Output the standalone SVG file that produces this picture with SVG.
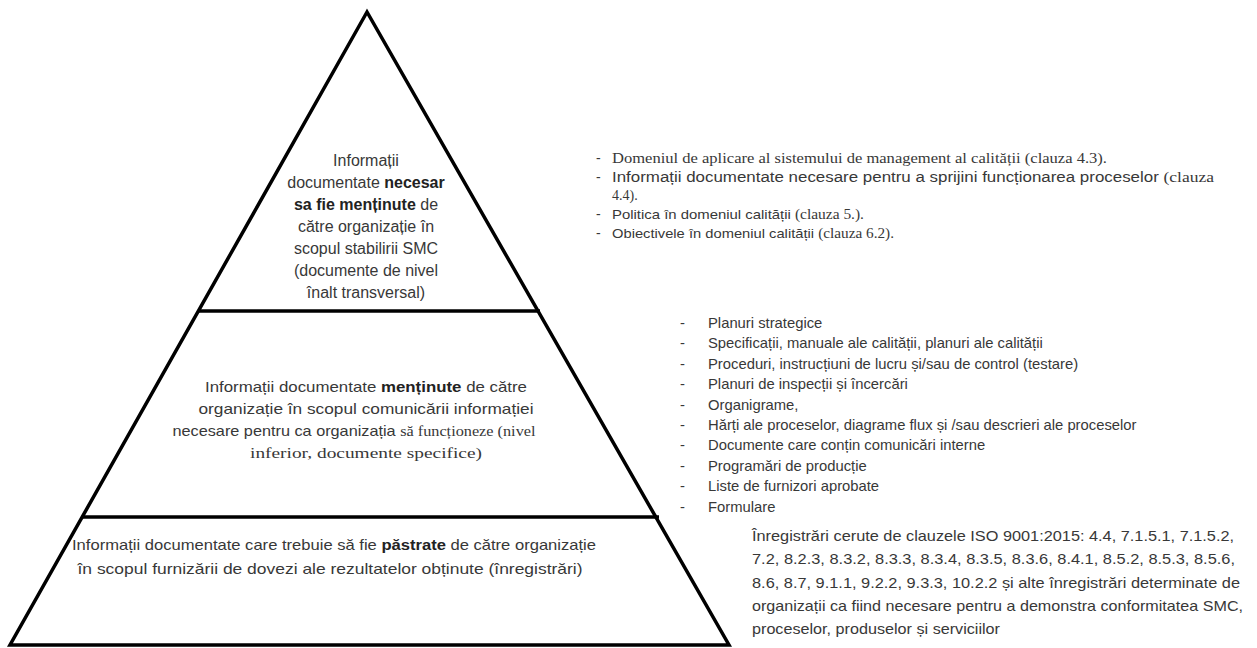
<svg xmlns="http://www.w3.org/2000/svg" width="1257" height="648" viewBox="0 0 1257 648">
  <style>
    .sans { font-family: "Liberation Sans", "Noto Sans", sans-serif; fill: #383838; }
    .serif { font-family: "Liberation Serif", "DejaVu Serif", serif; fill: #383838; }
    .mid { text-anchor: middle; }
    .b { font-weight: bold; fill: #222; }
    .edge { stroke: #000; stroke-width: 3.5; fill: none; stroke-linejoin: miter; }
  </style>
  <rect width="1257" height="648" fill="#fff"/>

  <!-- pyramid outline and level dividers -->
  <g id="connectors">
    <polygon class="edge" points="367,12 10,645 729,645"/>
    <line class="edge" x1="199" y1="311" x2="540" y2="311"/>
    <line class="edge" x1="83" y1="517" x2="659" y2="517"/>
  </g>

  <!-- top level -->
  <g id="level-top" font-size="16">
    <text class="sans mid" x="366" y="166">Informații</text>
    <text class="sans mid" x="366" y="188">documentate <tspan class="b">necesar</tspan></text>
    <text class="sans mid" x="366" y="210"><tspan class="b">sa fie menținute</tspan> de</text>
    <text class="sans mid" x="366" y="232">către organizație în</text>
    <text class="sans mid" x="366" y="254">scopul stabilirii SMC</text>
    <text class="sans mid" x="366" y="276">(documente de nivel</text>
    <text class="sans mid" x="366" y="298">înalt transversal)</text>
  </g>

  <!-- middle level -->
  <g id="level-middle" font-size="14.5">
    <text class="sans mid" x="366" y="392" textLength="322" lengthAdjust="spacingAndGlyphs">Informații documentate <tspan class="b">menținute</tspan> de către</text>
    <text class="sans mid" x="366" y="414" textLength="335" lengthAdjust="spacingAndGlyphs">organizație în scopul comunicării informației</text>
    <text class="sans mid" x="354" y="436" textLength="363" lengthAdjust="spacingAndGlyphs">necesare pentru ca organizația <tspan class="serif">să funcționeze (nivel</tspan></text>
    <text class="serif mid" x="366" y="458" textLength="232" lengthAdjust="spacingAndGlyphs">inferior, documente specifice)</text>
  </g>

  <!-- bottom level -->
  <g id="level-bottom" font-size="14.5">
    <text class="sans mid" x="334" y="550" textLength="524" lengthAdjust="spacingAndGlyphs">Informații documentate care trebuie să fie <tspan class="b">păstrate</tspan> de către organizație</text>
    <text class="sans mid" x="330" y="574" textLength="505" lengthAdjust="spacingAndGlyphs">în scopul furnizării de dovezi ale rezultatelor obținute (înregistrări)</text>
  </g>

  <!-- notes for the top level -->
  <g id="notes-top" font-size="14">
    <text class="sans" x="596" y="163">-</text>
    <text class="serif" x="612" y="163" textLength="495" lengthAdjust="spacingAndGlyphs">Domeniul de aplicare al sistemului de management al calității (clauza 4.3).</text>
    <text class="sans" x="596" y="182">-</text>
    <text class="sans" x="612" y="182" font-size="14" textLength="602" lengthAdjust="spacingAndGlyphs">Informații documentate necesare pentru a sprijini funcționarea proceselor <tspan class="serif" font-size="14.5">(clauza</tspan></text>
    <text class="serif" x="612" y="200">4.4).</text>
    <text class="sans" x="596" y="219">-</text>
    <text class="sans" x="612" y="219" font-size="13.5" textLength="252" lengthAdjust="spacingAndGlyphs">Politica în domeniul calității <tspan class="serif" font-size="14">(clauza 5.).</tspan></text>
    <text class="sans" x="596" y="238">-</text>
    <text class="sans" x="612" y="238" font-size="13.5" textLength="282" lengthAdjust="spacingAndGlyphs">Obiectivele în domeniul calității <tspan class="serif" font-size="14">(clauza 6.2).</tspan></text>
  </g>

  <!-- notes for the middle level -->
  <g id="notes-middle" font-size="14.8">
    <text class="sans" x="680" y="328">-</text><text class="sans" x="708" y="328">Planuri strategice</text>
    <text class="sans" x="680" y="348">-</text><text class="sans" x="708" y="348">Specificații, manuale ale calității, planuri ale calității</text>
    <text class="sans" x="680" y="369">-</text><text class="sans" x="708" y="369">Proceduri, instrucțiuni de lucru și/sau de control (testare)</text>
    <text class="sans" x="680" y="389">-</text><text class="sans" x="708" y="389">Planuri de inspecții și încercări</text>
    <text class="sans" x="680" y="410">-</text><text class="sans" x="708" y="410">Organigrame,</text>
    <text class="sans" x="680" y="430">-</text><text class="sans" x="708" y="430">Hărți ale proceselor, diagrame flux și /sau descrieri ale proceselor</text>
    <text class="sans" x="680" y="450">-</text><text class="sans" x="708" y="450">Documente care conțin comunicări interne</text>
    <text class="sans" x="680" y="471">-</text><text class="sans" x="708" y="471">Programări de producție</text>
    <text class="sans" x="680" y="491">-</text><text class="sans" x="708" y="491">Liste de furnizori aprobate</text>
    <text class="sans" x="680" y="512">-</text><text class="sans" x="708" y="512">Formulare</text>
  </g>

  <!-- notes for the bottom level -->
  <g id="notes-bottom" font-size="14.5">
    <text class="sans" x="752" y="541" textLength="482" lengthAdjust="spacingAndGlyphs">Înregistrări cerute de clauzele ISO 9001:2015: 4.4, 7.1.5.1, 7.1.5.2,</text>
    <text class="sans" x="752" y="564" textLength="483" lengthAdjust="spacingAndGlyphs">7.2, 8.2.3, 8.3.2, 8.3.3, 8.3.4, 8.3.5, 8.3.6, 8.4.1, 8.5.2, 8.5.3, 8.5.6,</text>
    <text class="sans" x="752" y="588" textLength="488" lengthAdjust="spacingAndGlyphs">8.6, 8.7, 9.1.1, 9.2.2, 9.3.3, 10.2.2 și alte înregistrări determinate de</text>
    <text class="sans" x="752" y="611" textLength="491" lengthAdjust="spacingAndGlyphs">organizații ca fiind necesare pentru a demonstra conformitatea SMC,</text>
    <text class="sans" x="752" y="634" textLength="248" lengthAdjust="spacingAndGlyphs">proceselor, produselor și serviciilor</text>
  </g>
</svg>
